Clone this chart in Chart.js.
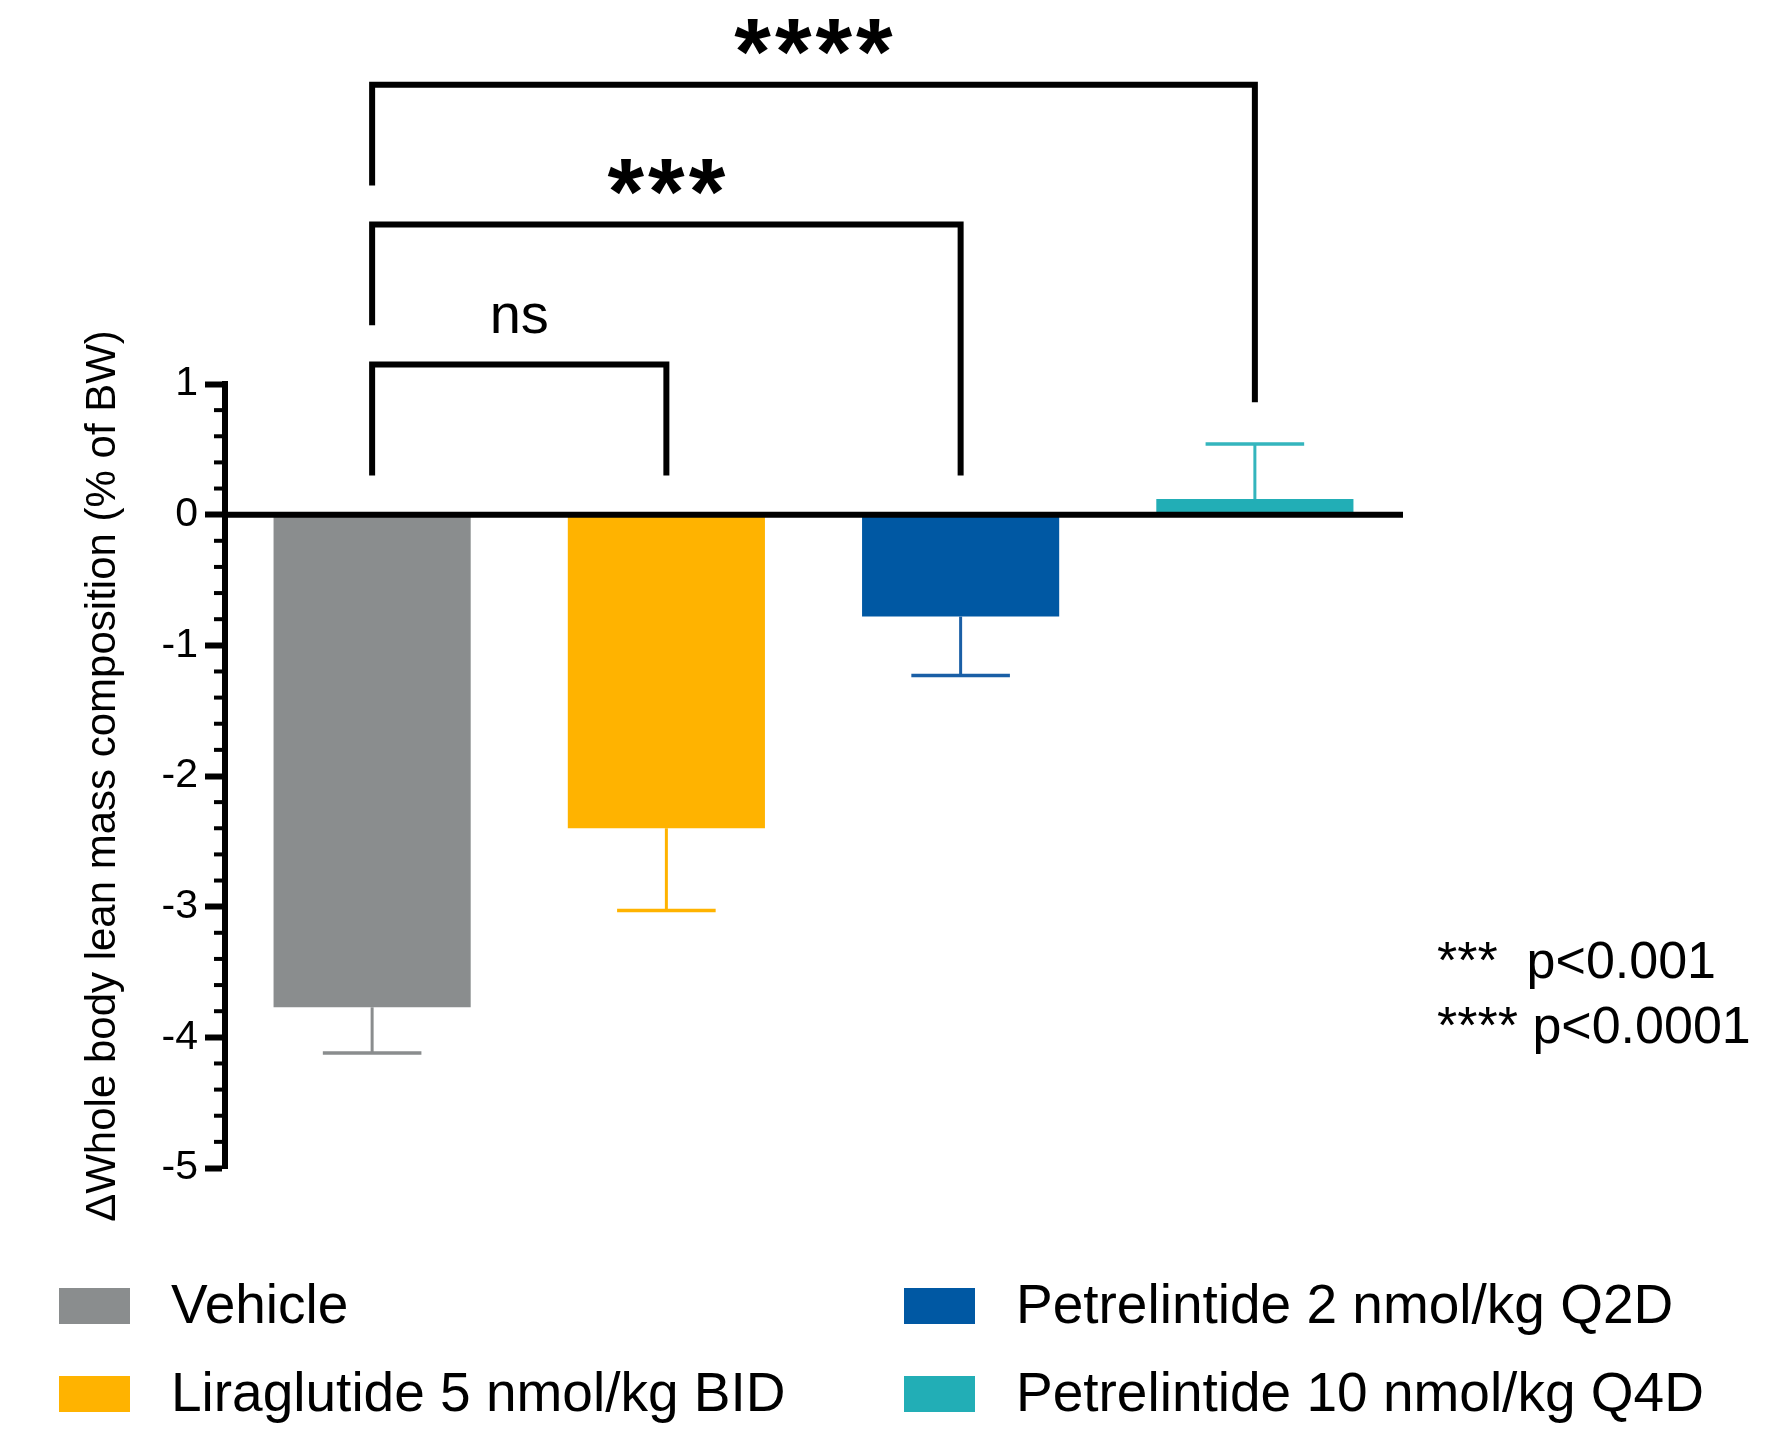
<!DOCTYPE html>
<html lang="en">
  <head>
    <meta charset="utf-8" />
    <title>Lean mass composition</title>
    <style>
      * {
        margin: 0;
        padding: 0;
      }
      body {
        background: white;
      }
      .chartBox {
        width: 1766px;
        height: 1429px;
      }
    </style>
  </head>
  <body>
    <div class="chartBox">
      <canvas id="myChart"></canvas>
    </div>

    <script src="https://cdn.jsdelivr.net/npm/chart.js"></script>

    <script>
      const FONT = "'Liberation Sans', Arial, Helvetica, sans-serif";

      // data block
      const groups = [
        "Vehicle",
        "Liraglutide 5 nmol/kg BID",
        "Petrelintide 2 nmol/kg Q2D",
        "Petrelintide 10 nmol/kg Q4D",
      ];
      const means = [-3.77, -2.4, -0.78, 0.12];
      const sem = [0.35, 0.63, 0.45, 0.42];
      const barColors = ["#8a8d8e", "#ffb300", "#0058a3", "#22aeb6"];
      const errColors = ["#8a8d8e", "#ffb300", "#1a5fa6", "#34b5bd"];
      const yMajor = [-5, -4, -3, -2, -1, 0, 1];
      const yTitle = "\u0394Whole body lean mass composition (% of BW)";

      // comparisons vs vehicle: bracket top and leg ends in y units
      const comparisons = [
        { a: 0, b: 1, label: "ns", top: 1.15, endA: 0.3, endB: 0.3 },
        { a: 0, b: 2, label: "***", top: 2.22, endA: 1.45, endB: 0.3 },
        { a: 0, b: 3, label: "****", top: 3.29, endA: 2.52, endB: 0.86 },
      ];
      const pNotes = ["***  p<0.001", "**** p<0.0001"];

      const isMajor = (v) => yMajor.some((m) => Math.abs(m - v) < 1e-6);

      // annotations plugin block
      const annotations = {
        id: "annotations",
        afterDatasetsDraw(chart) {
          const {
            ctx,
            chartArea: { left, right },
            scales: { x, y },
          } = chart;
          const meta = chart.getDatasetMeta(0);
          ctx.save();

          // error bars (SEM, away from zero)
          meta.data.forEach((bar, i) => {
            const dir = means[i] < 0 ? -1 : 1;
            const y1 = y.getPixelForValue(means[i]);
            const y2 = y.getPixelForValue(means[i] + dir * sem[i]);
            const capHalf = bar.width / 4;
            ctx.strokeStyle = errColors[i];
            ctx.lineWidth = 3;
            ctx.beginPath();
            ctx.moveTo(bar.x, y1);
            ctx.lineTo(bar.x, y2);
            ctx.stroke();
            ctx.lineWidth = 3.5;
            ctx.beginPath();
            ctx.moveTo(bar.x - capHalf, y2);
            ctx.lineTo(bar.x + capHalf, y2);
            ctx.stroke();
          });

          // zero line
          const y0 = y.getPixelForValue(0);
          ctx.strokeStyle = "#000";
          ctx.lineWidth = 6;
          ctx.beginPath();
          ctx.moveTo(left - 3, y0);
          ctx.lineTo(right + 1, y0);
          ctx.stroke();

          // significance brackets
          ctx.lineJoin = "miter";
          comparisons.forEach((c) => {
            const xa = x.getPixelForValue(c.a);
            const xb = x.getPixelForValue(c.b);
            const yt = y.getPixelForValue(c.top);
            ctx.strokeStyle = "#000";
            ctx.lineWidth = 6;
            ctx.beginPath();
            ctx.moveTo(xa, y.getPixelForValue(c.endA));
            ctx.lineTo(xa, yt);
            ctx.lineTo(xb, yt);
            ctx.lineTo(xb, y.getPixelForValue(c.endB));
            ctx.stroke();

            const stars = c.label.startsWith("*");
            ctx.font = stars ? `bold 94px ${FONT}` : `56px ${FONT}`;
            ctx.letterSpacing = stars ? "4px" : "0px";
            ctx.fillStyle = "#000";
            ctx.textAlign = "center";
            ctx.textBaseline = "alphabetic";
            const m = ctx.measureText(c.label);
            const gap = 30;
            const cx = (xa + xb) / 2 + (stars ? 2 : 0);
            ctx.fillText(c.label, cx, yt - gap - m.actualBoundingBoxDescent);
          });
          ctx.letterSpacing = "0px";
          ctx.restore();
        },
        afterDraw(chart) {
          const {
            ctx,
            chartArea: { left, top, bottom },
            scales: { y },
          } = chart;
          ctx.save();

          // minor ticks
          ctx.strokeStyle = "#000";
          ctx.lineWidth = 4;
          y.ticks.forEach((t) => {
            if (isMajor(t.value)) return;
            const py = y.getPixelForValue(t.value);
            ctx.beginPath();
            ctx.moveTo(left - 11, py);
            ctx.lineTo(left, py);
            ctx.stroke();
          });

          // y title (drawn here so it is not squeezed to the axis height)
          ctx.save();
          ctx.translate(103, (top + bottom) / 2);
          ctx.rotate(-Math.PI / 2);
          ctx.font = `42px ${FONT}`;
          ctx.fillStyle = "#000";
          ctx.textAlign = "center";
          ctx.textBaseline = "middle";
          ctx.fillText(yTitle, 0, 0);
          ctx.restore();

          // legend, two columns
          const cols = [59, 904];
          const rows = [1288, 1376];
          ctx.font = `55px ${FONT}`;
          ctx.textAlign = "left";
          ctx.textBaseline = "alphabetic";
          groups.forEach((g, i) => {
            const cx = cols[Math.floor(i / 2)];
            const ry = rows[i % 2];
            ctx.fillStyle = barColors[i];
            ctx.fillRect(cx, ry, 71, 36);
            ctx.fillStyle = "#000";
            ctx.fillText(g, cx + 112, ry + 35);
          });

          // p-value key
          ctx.font = `52px ${FONT}`;
          pNotes.forEach((t, i) => {
            ctx.fillText(t, 1437, 978 + i * 65);
          });
          ctx.restore();
        },
      };

      // config block
      const config = {
        type: "bar",
        data: {
          labels: groups,
          datasets: [
            {
              data: means,
              backgroundColor: barColors,
              borderWidth: 0,
              categoryPercentage: 1,
              barPercentage: 0.67,
            },
          ],
        },
        options: {
          responsive: true,
          maintainAspectRatio: false,
          animation: false,
          layout: {
            padding: { top: 384, right: 364, bottom: 261, left: 0 },
          },
          plugins: {
            legend: { display: false },
            tooltip: { enabled: false },
          },
          scales: {
            x: { display: false },
            y: {
              min: -5,
              max: 1,
              afterFit(scale) {
                scale.width = 225;
              },
              border: { display: true, width: 6, color: "#000" },
              grid: {
                drawOnChartArea: false,
                tickLength: 20,
                tickWidth: 6,
                tickColor: (c) => (c.tick && isMajor(c.tick.value) ? "#000" : "rgba(0,0,0,0)"),
              },
              ticks: {
                stepSize: 0.2,
                autoSkip: false,
                padding: 7,
                color: "#000",
                font: { family: FONT, size: 41 },
                callback: (v) => (isMajor(v) ? String(Math.round(v)) : ""),
              },
            },
          },
        },
        plugins: [annotations],
      };

      // init render block
      const myChart = new Chart(document.getElementById("myChart"), config);
    </script>
  </body>
</html>
